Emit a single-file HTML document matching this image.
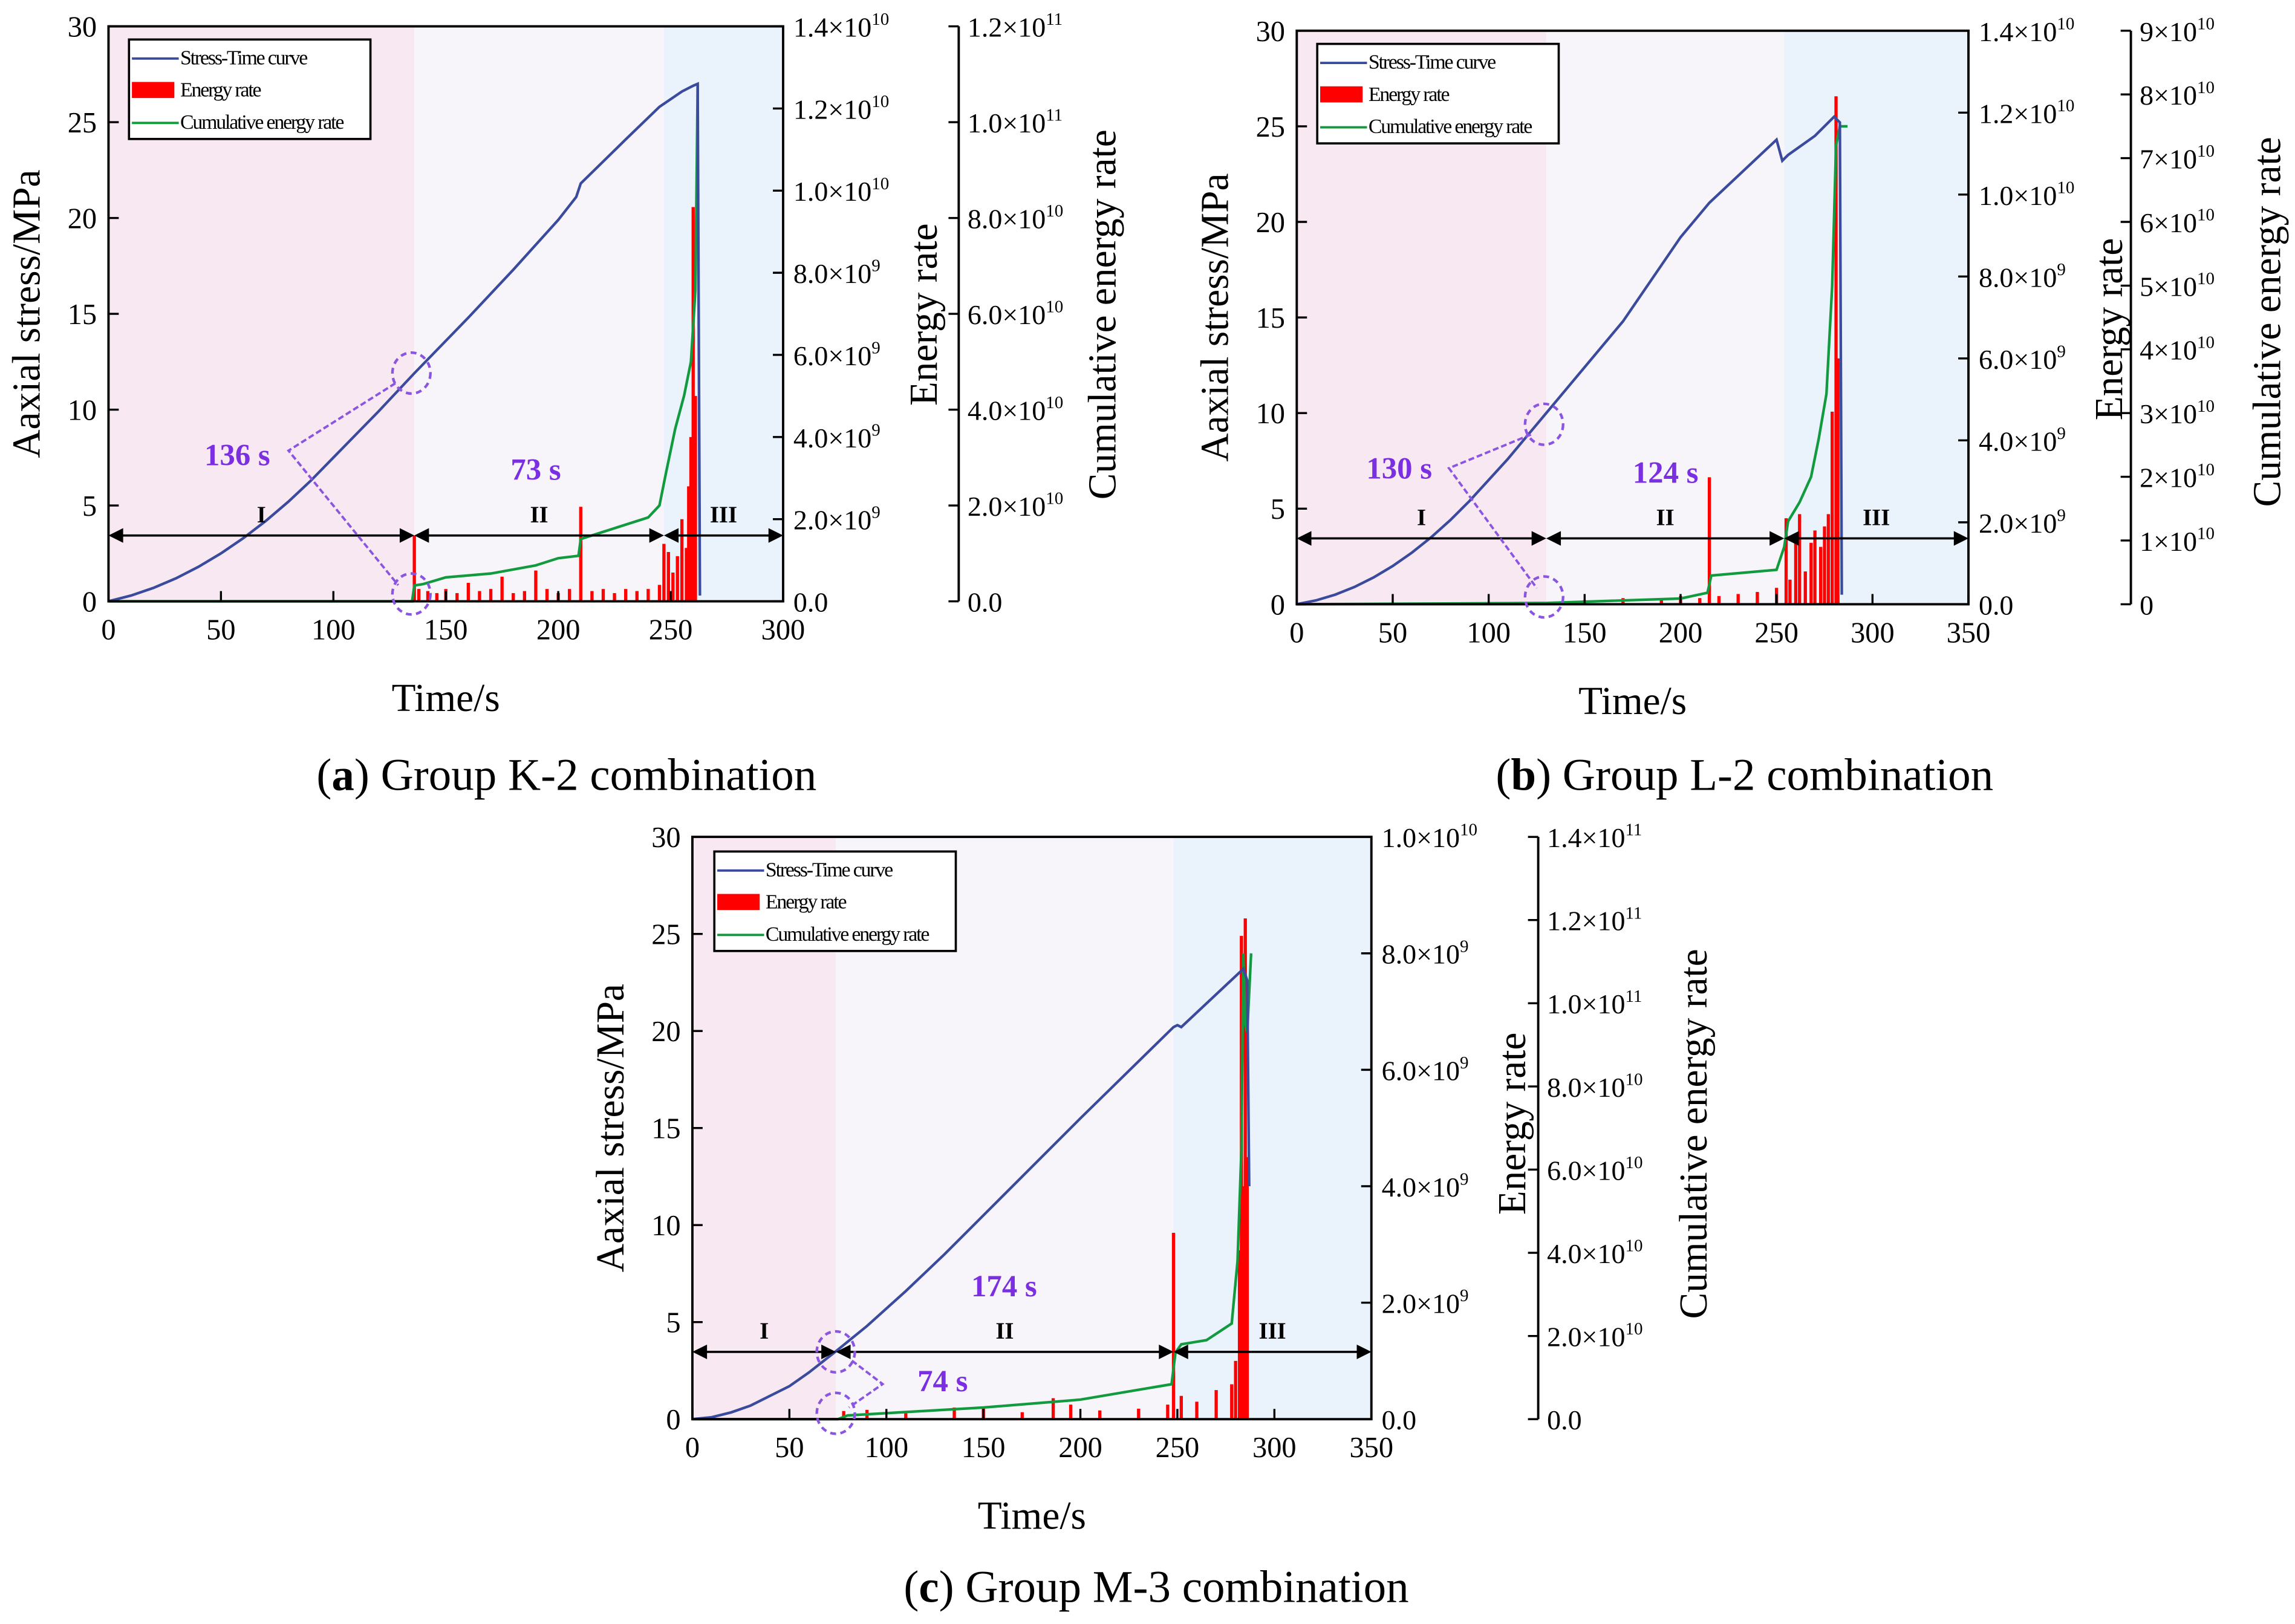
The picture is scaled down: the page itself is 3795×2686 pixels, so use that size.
<!DOCTYPE html>
<html><head><meta charset="utf-8"><style>
html,body{margin:0;padding:0;background:#fff;}
svg{display:block;}
text{font-family:"Liberation Serif",serif;}
</style></head><body>
<svg id="fig" width="3795" height="2686" viewBox="0 0 1568 1110" xmlns="http://www.w3.org/2000/svg"></svg>
<script>
// ---------- Panel (a) data ----------
const aStressT=[0,10,20,30,40,50,60,70,80,90,100,110,120,136,160,180,200,208,210,230,245,255,260,262,263];
const aStressV=[0,0.3,0.7,1.2,1.8,2.5,3.3,4.2,5.2,6.3,7.5,8.7,9.9,11.9,14.8,17.3,19.9,21.1,21.8,24.1,25.8,26.6,26.9,27,0.3];
const aEnergyT=[136,138,142,146,150,155,160,165,170,175,180,185,190,195,200,205,210,215,220,225,230,235,240,245,247,249,251,253,255,257,258,259,260,261];
const aEnergyV=[1.6,0.3,0.25,0.2,0.3,0.2,0.45,0.25,0.3,0.6,0.2,0.25,0.75,0.3,0.2,0.3,2.3,0.25,0.3,0.2,0.3,0.25,0.3,0.4,1.4,1.2,0.7,1.1,2.0,1.3,2.8,4.0,9.6,5.0];
const aCumT=[0,135,136,140,150,170,190,200,209,210,220,240,245,248,252,256,259,261,262];
const aCumV=[0,0,0.33,0.36,0.5,0.58,0.75,0.9,0.95,1.3,1.45,1.75,2.0,2.7,3.6,4.3,5.0,6.5,10.8];
// ---------- Panel (b) data ----------
const bStressT=[0,10,20,30,40,50,60,70,80,90,100,110,130,170,200,215,250,253,256,270,280,283,284];
const bStressV=[0,0.2,0.5,0.9,1.4,2.0,2.7,3.5,4.4,5.4,6.5,7.6,10,14.8,19.2,21,24.3,23.2,23.5,24.5,25.5,25.2,0.5];
const bEnergyT=[150,170,190,200,210,215,220,230,240,250,255,257,260,262,265,268,270,273,275,277,279,281,282];
const bEnergyV=[0.1,0.15,0.12,0.2,0.15,3.1,0.2,0.25,0.3,0.4,2.1,0.6,1.5,2.2,0.8,1.5,1.8,1.4,1.9,2.2,4.7,12.4,6.0];
const bCumT=[0,130,200,214,216,250,254,256,262,268,272,276,279,281,283,287];
const bCumV=[0,0.02,0.09,0.18,0.45,0.54,0.9,1.3,1.6,2.0,2.6,3.3,5.0,7.2,7.5,7.5];
// ---------- Panel (c) data ----------
const cStressT=[0,10,20,30,40,50,60,74,90,110,130,150,200,248,250,252,284,286,287];
const cStressV=[0,0.1,0.35,0.7,1.2,1.7,2.4,3.5,4.8,6.6,8.5,10.5,15.5,20.2,20.3,20.2,23.2,22.6,12];
const cEnergyT=[78,90,110,135,150,170,186,195,210,230,245,248,252,260,270,278,280,282,283,284,285,286];
const cEnergyV=[0.14,0.16,0.1,0.2,0.18,0.12,0.36,0.25,0.15,0.18,0.25,3.2,0.4,0.3,0.5,0.6,1.0,2.9,8.3,4.0,8.6,4.5];
const cCumT=[0,75,80,150,200,247,249,252,265,278,281,283,284,285,286,288];
const cCumV=[0,0,0.09,0.28,0.47,0.84,1.6,1.8,1.9,2.3,3.8,6.5,11.2,9.5,9.3,11.2];

const NS="http://www.w3.org/2000/svg";
const svg=document.getElementById('fig');
function mk(tag,attrs,parent,txt){const e=document.createElementNS(NS,tag);for(const k in attrs)e.setAttribute(k,attrs[k]);if(txt!==undefined)e.textContent=txt;(parent||svg).appendChild(e);return e;}

function sci(m,e){return m+'×10<tspan dy="-8" font-size="12">'+e+'</tspan>';}

function panel(c){
  const g=mk('g',{});
  
  
  const X=t=>c.x0+(c.x1-c.x0)*t/c.tmax;
  const Y=v=>c.y0+(c.y1-c.y0)*v/30;
  const YE=v=>c.y0+(c.y1-c.y0)*v/c.emax;
  const YC=v=>c.y0+(c.y1-c.y0)*v/c.cmax;
  const reg=[[0,c.p1,'#f8e8f1'],[c.p1,c.p2,'#f7f5fa'],[c.p2,c.tmax,'#eaf2fb']];
  reg.forEach((r,i)=>{const e=mk('rect',{x:X(r[0]),y:c.y1,width:X(r[1])-X(r[0]),height:c.y0-c.y1,fill:r[2]},g);
    
    });
  c.eT.forEach((t,i)=>{const e=mk('line',{x1:X(t),x2:X(t),y1:c.y0,y2:YE(c.eV[i]),stroke:'#ff0000','stroke-width':2.2},g);
    
    });
  let d=c.cT.map((t,i)=>(i?'L':'M')+X(t)+','+YC(c.cV[i])).join('');
  let p=mk('path',{d:d,fill:'none',stroke:'#119a3e','stroke-width':1.8},g);
  
  
  d=c.sT.map((t,i)=>(i?'L':'M')+X(t)+','+Y(c.sV[i])).join('');
  p=mk('path',{d:d,fill:'none',stroke:'#3a4a9c','stroke-width':1.8},g);
  
  
  const f=mk('rect',{x:c.x0,y:c.y1,width:c.x1-c.x0,height:c.y0-c.y1,fill:'none',stroke:'#000','stroke-width':1.6},g);
  
  
  for(let t=0;t<=c.tmax;t+=50){mk('line',{x1:X(t),x2:X(t),y1:c.y0,y2:c.y0-7,stroke:'#000','stroke-width':1.4},g);
    const e=mk('text',{x:X(t),y:c.y0+26,'font-size':20,'text-anchor':'middle'},g,t);
    
    }
  for(let v=0;v<=30;v+=5){mk('line',{x1:c.x0,x2:c.x0+7,y1:Y(v),y2:Y(v),stroke:'#000','stroke-width':1.4},g);
    const e=mk('text',{x:c.x0-8,y:Y(v)+7,'font-size':20,'text-anchor':'end'},g,v);
    
    }
  c.eTicks.forEach((tk,i)=>{const yy=YE(tk[0]);mk('line',{x1:c.x1,x2:c.x1-7,y1:yy,y2:yy,stroke:'#000','stroke-width':1.4},g);
    const e=mk('text',{x:c.x1+7,y:yy+7,'font-size':19},g);e.innerHTML=tk[1];
    
    });
  mk('line',{x1:c.cx,x2:c.cx,y1:c.y0,y2:c.y1,stroke:'#000','stroke-width':1.6},g);
  c.cTicks.forEach(tk=>{const yy=YC(tk[0]);mk('line',{x1:c.cx-7,x2:c.cx,y1:yy,y2:yy,stroke:'#000','stroke-width':1.4},g);
    const e=mk('text',{x:c.cx+6,y:yy+7,'font-size':19},g);e.innerHTML=tk[1];
    
    });
  let e=mk('text',{x:(c.x0+c.x1)/2,y:c.y0+75,'font-size':27,'text-anchor':'middle'},g,'Time/s');
  
  e=mk('text',{transform:`translate(${c.x0-47},${(c.y0+c.y1)/2}) rotate(-90)`,'font-size':27,'text-anchor':'middle'},g,'Aaxial stress/MPa');
  
  e=mk('text',{transform:`translate(${c.etx},${c.ety}) rotate(-90)`,'font-size':27,'text-anchor':'middle'},g,'Energy rate');
  
  e=mk('text',{transform:`translate(${c.ctx},${c.cty}) rotate(-90)`,'font-size':27,'text-anchor':'middle'},g,'Cumulative energy rate');
  
  const L=c.leg;const lg=mk('g',{},g);
  
  mk('rect',{x:L[0],y:L[1],width:165,height:68,fill:'#fff',stroke:'#000','stroke-width':1.5},lg);
  mk('line',{x1:L[0]+2,x2:L[0]+34,y1:L[1]+13,y2:L[1]+13,stroke:'#3a4a9c','stroke-width':1.6},lg);
  mk('rect',{x:L[0]+2,y:L[1]+29,width:29,height:11,fill:'#ff0000'},lg);
  mk('line',{x1:L[0]+2,x2:L[0]+34,y1:L[1]+57,y2:L[1]+57,stroke:'#119a3e','stroke-width':1.6},lg);
  [['Stress-Time curve',17],['Energy rate',39],['Cumulative energy rate',61]].forEach(s=>{
    const t=mk('text',{x:L[0]+35,y:L[1]+s[1],'font-size':14,'letter-spacing':-0.9},lg,s[0]);
    });
  const ay=c.ay;
  [[0,c.p1],[c.p1,c.p2],[c.p2,c.tmax]].forEach((s,i)=>{
    const a=X(s[0]),b=X(s[1]);
    mk('line',{x1:a+8,x2:b-8,y1:ay,y2:ay,stroke:'#000','stroke-width':1.5},g);
    mk('path',{d:`M${a},${ay}L${a+10},${ay-5}L${a+10},${ay+5}Z M${b},${ay}L${b-10},${ay-5}L${b-10},${ay+5}Z`,fill:'#000'},g);
    const t=mk('text',{x:(a+b)/2,y:ay-9,'font-size':16,'font-weight':'bold','text-anchor':'middle'},g,['I','II','III'][i]);
    });
  c.circ.forEach(cc=>{const e=mk('ellipse',{cx:cc[0],cy:cc[1],rx:13,ry:14,fill:'none',stroke:'#8a55e0','stroke-width':1.8,'stroke-dasharray':'4,3'},g);
    });
  mk('polyline',{points:c.poly,fill:'none',stroke:'#8a55e0','stroke-width':1.6,'stroke-dasharray':'4,2'},g);
  c.notes.forEach(n=>{const t=mk('text',{x:n[0],y:n[1],'font-size':21,'font-weight':'bold',fill:'#7a2fe0','text-anchor':'middle'},g,n[2]);
    });
  const cap=mk('text',{x:c.cap[0],y:c.cap[1],'font-size':31,'text-anchor':'middle'},g);
  cap.innerHTML='(<tspan font-weight="bold">'+c.cap[2]+'</tspan>) '+c.cap[3];
  
}

panel({name:'chart-k2',x0:74,x1:535,y0:411,y1:18,tmax:300,p1:136,p2:247,emax:14,cmax:12,
 sT:aStressT,sV:aStressV,eT:aEnergyT,eV:aEnergyV,cT:aCumT,cV:aCumV,
 eTicks:[[0,'0.0'],[2,sci('2.0',9)],[4,sci('4.0',9)],[6,sci('6.0',9)],[8,sci('8.0',9)],[10,sci('1.0',10)],[12,sci('1.2',10)],[14,sci('1.4',10)]],
 cx:655,cTicks:[[0,'0.0'],[2,sci('2.0',10)],[4,sci('4.0',10)],[6,sci('6.0',10)],[8,sci('8.0',10)],[10,sci('1.0',11)],[12,sci('1.2',11)]],
 etx:640,ety:215,ctx:762,cty:215,leg:[88,27],ay:366,
 circ:[[281,255],[281,406]],poly:'270,262 197,308 272,400',notes:[[162,318,'136 s'],[366,328,'73 s']],
 cap:[387,540,'a','Group K-2 combination']});

panel({name:'chart-l2',x0:886,x1:1345,y0:413,y1:21,tmax:350,p1:130,p2:254,emax:14,cmax:9,
 sT:bStressT,sV:bStressV,eT:bEnergyT,eV:bEnergyV,cT:bCumT,cV:bCumV,
 eTicks:[[0,'0.0'],[2,sci('2.0',9)],[4,sci('4.0',9)],[6,sci('6.0',9)],[8,sci('8.0',9)],[10,sci('1.0',10)],[12,sci('1.2',10)],[14,sci('1.4',10)]],
 cx:1456,cTicks:[[0,'0'],[1,sci('1',10)],[2,sci('2',10)],[3,sci('3',10)],[4,sci('4',10)],[5,sci('5',10)],[6,sci('6',10)],[7,sci('7',10)],[8,sci('8',10)],[9,sci('9',10)]],
 etx:1450,ety:225,ctx:1558,cty:220,leg:[900,30],ay:368,
 circ:[[1055,290],[1055,408]],poly:'1046,297 990,320 1050,402',notes:[[956,327,'130 s'],[1138,330,'124 s']],
 cap:[1192,540,'b','Group L-2 combination']});

panel({name:'chart-m3',x0:473,x1:937,y0:970,y1:572,tmax:350,p1:74,p2:248,emax:10,cmax:14,
 sT:cStressT,sV:cStressV,eT:cEnergyT,eV:cEnergyV,cT:cCumT,cV:cCumV,
 eTicks:[[0,'0.0'],[2,sci('2.0',9)],[4,sci('4.0',9)],[6,sci('6.0',9)],[8,sci('8.0',9)],[10,sci('1.0',10)]],
 cx:1051,cTicks:[[0,'0.0'],[2,sci('2.0',10)],[4,sci('4.0',10)],[6,sci('6.0',10)],[8,sci('8.0',10)],[10,sci('1.0',11)],[12,sci('1.2',11)],[14,sci('1.4',11)]],
 etx:1042,ety:768,ctx:1166,cty:775,leg:[488,582],ay:924,
 circ:[[571,924],[571,966]],poly:'582,930 603,946 580,962',notes:[[686,886,'174 s'],[644,951,'74 s']],
 cap:[790,1095,'c','Group M-3 combination']});
</script>
</body></html>
